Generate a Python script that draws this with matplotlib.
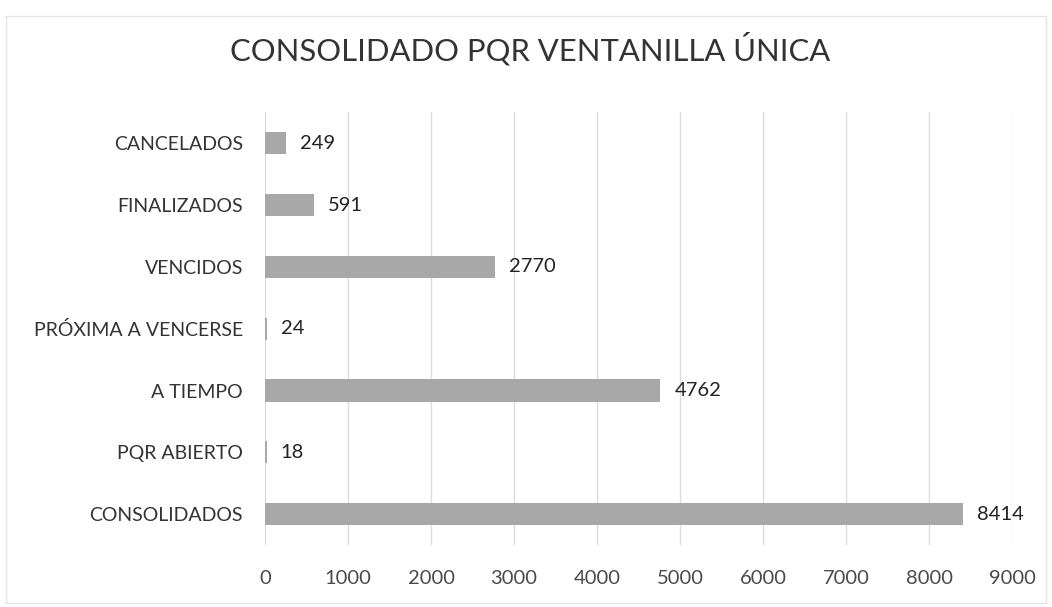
import matplotlib
matplotlib.use("Agg")
import matplotlib.pyplot as plt
from matplotlib.patches import Rectangle

categories = ["CONSOLIDADOS", "PQR ABIERTO", "A TIEMPO", "PRÓXIMA A VENCERSE",
              "VENCIDOS", "FINALIZADOS", "CANCELADOS"]
values = [8414, 18, 4762, 24, 2770, 591, 249]
xticks = [0, 1000, 2000, 3000, 4000, 5000, 6000, 7000, 8000, 9000]
title = "CONSOLIDADO PQR VENTANILLA ÚNICA"

plt.rcParams['font.family'] = ['Lato', 'DejaVu Sans']

fig = plt.figure(figsize=(10.52, 6.07), dpi=100)
fig.patches.append(Rectangle((0.006, 0.006), 0.988, 0.968, transform=fig.transFigure,
                             fill=False, edgecolor="#e4e4e4", linewidth=1.0))
ax = fig.add_axes([0.252, 0.102, 0.710, 0.713])

y = list(range(len(categories)))
ax.barh(y, values, height=0.36, color="#a8a8a8", zorder=3)
for yi, v in zip(y, values):
    ax.text(v + 170, yi, str(v), va="center", ha="left", fontsize=14.5, color="#222222")

ax.set_xlim(0, 9000)
ax.set_ylim(-0.5, len(categories) - 0.5)
ax.set_xticks(xticks)
ax.set_xticklabels([str(t) for t in xticks], fontsize=14.5, color="#4a4a4a")
ax.set_yticks(y)
ax.set_yticklabels(categories, fontsize=14, color="#333333")
ax.tick_params(axis="x", length=0, pad=18)
ax.tick_params(axis="y", length=0, pad=16)
for s in ax.spines.values():
    s.set_visible(False)
ax.grid(axis="x", color="#dcdcdc", linewidth=1.0, zorder=0)
ax.set_axisbelow(True)

fig.text(0.504, 0.92, title, ha="center", va="center", fontsize=22.3, color="#333333")

fig.savefig("out.png", dpi=100)
